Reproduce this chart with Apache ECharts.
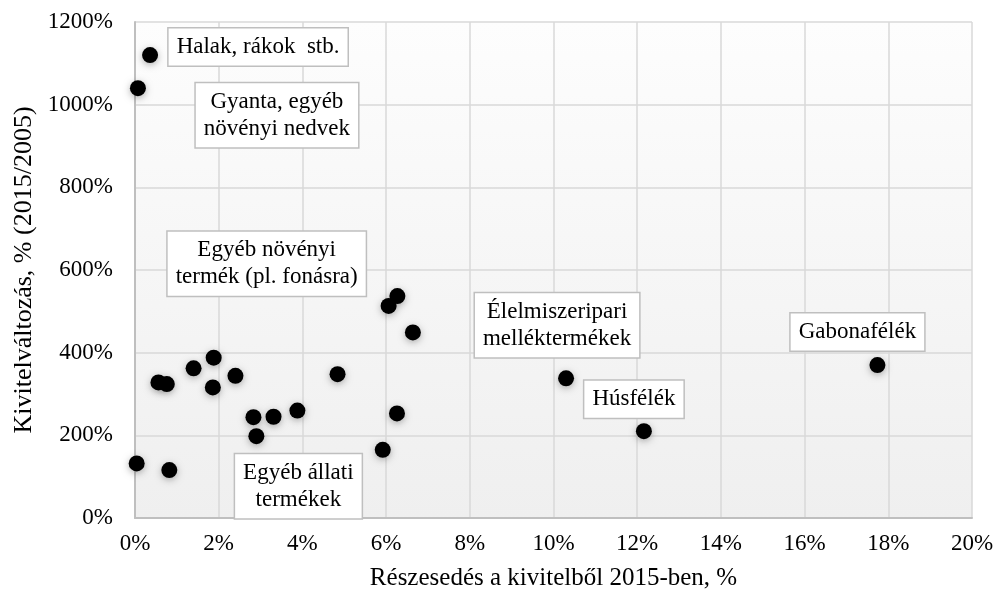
<!DOCTYPE html>
<html>
<head>
<meta charset="utf-8">
<script src="https://cdn.jsdelivr.net/npm/echarts@6/dist/echarts.min.js"></script>
<style>
  html, body { margin: 0; padding: 0; background: #fff; }
  #main { width: 999px; height: 599px; }
</style>
</head>
<body>
<div id="main"></div>
<script>
// share of exports 2015 (%), change of exports 2015/2005 (%)
var shareX = [0.36, 0.07, 6.27, 6.06, 6.64, 1.88, 1.40, 2.40, 4.84, 0.56, 0.76, 1.86,
              3.88, 3.31, 2.83, 6.26, 2.90, 5.92, 0.04, 0.82, 10.30, 12.16, 17.74];
var changeY = [1120, 1040, 537, 513, 449, 388, 362, 344, 348, 328, 324, 316,
               260, 245, 244, 253, 198, 165, 132, 116, 338, 210, 370];
var names = ['Halak, rákok  stb.', 'Gyanta, egyéb\nnövényi nedvek', '', '', '',
             'Egyéb növényi\ntermék (pl. fonásra)', '', '', '', '', '', '',
             '', '', '', '', 'Egyéb állati\ntermékek', '', '', '',
             'Élelmiszeripari\nmelléktermékek', 'Húsfélék', 'Gabonafélék'];
var xTicks = [0, 2, 4, 6, 8, 10, 12, 14, 16, 18, 20];
var yTicks = [0, 200, 400, 600, 800, 1000, 1200];

// where each label box sits, relative to its point (px)
var labelOffset = {
    'Halak, rákok  stb.': [108, -8],
    'Gyanta, egyéb\nnövényi nedvek': [139, 27],
    'Egyéb növényi\ntermék (pl. fonásra)': [53, -94],
    'Egyéb állati\ntermékek': [42, 50],
    'Élelmiszeripari\nmelléktermékek': [-9, -53],
    'Húsfélék': [-10, -32],
    'Gabonafélék': [-20, -33]
};

var serif = '"Liberation Serif", "Times New Roman", serif';

var points = [];
for (var i = 0; i < shareX.length; i++) {
    var item = {value: [shareX[i], changeY[i]], name: names[i]};
    if (names[i]) {
        item.label = {show: true, offset: labelOffset[names[i]]};
    }
    points.push(item);
}

function pct(v) {
    return v + '%';
}

var myChart = echarts.init(document.getElementById('main'));

var option = {
    animation: false,
    grid: {
        left: 135,
        right: 27,
        top: 22,
        bottom: 81,
        show: true,
        borderWidth: 0,
        backgroundColor: new echarts.graphic.LinearGradient(0, 0, 0, 1, [
            {offset: 0, color: '#fdfdfd'},
            {offset: 1, color: '#efefef'}
        ])
    },
    xAxis: {
        type: 'value',
        min: xTicks[0],
        max: xTicks[xTicks.length - 1],
        interval: 2,
        name: 'Részesedés a kivitelből 2015-ben, %',
        nameLocation: 'middle',
        nameGap: 48,
        nameTextStyle: {fontFamily: serif, fontSize: 25, color: '#000'},
        axisLine: {show: true, lineStyle: {color: '#bfbfbf', width: 2}},
        axisTick: {show: false},
        axisLabel: {formatter: pct, fontFamily: serif, fontSize: 23, color: '#000', margin: 14},
        splitLine: {show: true, lineStyle: {color: '#d9d9d9', width: 1.5}}
    },
    yAxis: {
        type: 'value',
        min: yTicks[0],
        max: yTicks[yTicks.length - 1],
        interval: 200,
        name: 'Kivitelváltozás, % (2015/2005)',
        nameLocation: 'middle',
        nameGap: 98,
        nameTextStyle: {fontFamily: serif, fontSize: 26, color: '#000'},
        axisLine: {show: true, lineStyle: {color: '#bfbfbf', width: 2}},
        axisTick: {show: false},
        axisLabel: {formatter: pct, fontFamily: serif, fontSize: 23, color: '#000', margin: 22},
        splitLine: {show: true, lineStyle: {color: '#d9d9d9', width: 1.5}}
    },
    series: [
        {
            type: 'scatter',
            symbol: 'circle',
            symbolSize: 16,
            itemStyle: {
                color: '#000',
                opacity: 1,
                shadowBlur: 7,
                shadowColor: 'rgba(0,0,0,0.3)',
                shadowOffsetY: 2
            },
            label: {
                show: false,
                position: 'inside',
                formatter: '{b}',
                fontFamily: serif,
                fontSize: 23,
                lineHeight: 27,
                color: '#000',
                opacity: 1,
                align: 'center',
                backgroundColor: '#fff',
                borderColor: '#bfbfbf',
                borderWidth: 1.5,
                padding: [5, 8]
            },
            emphasis: {disabled: true},
            data: points
        }
    ]
};

myChart.setOption(option);
</script>
</body>
</html>
